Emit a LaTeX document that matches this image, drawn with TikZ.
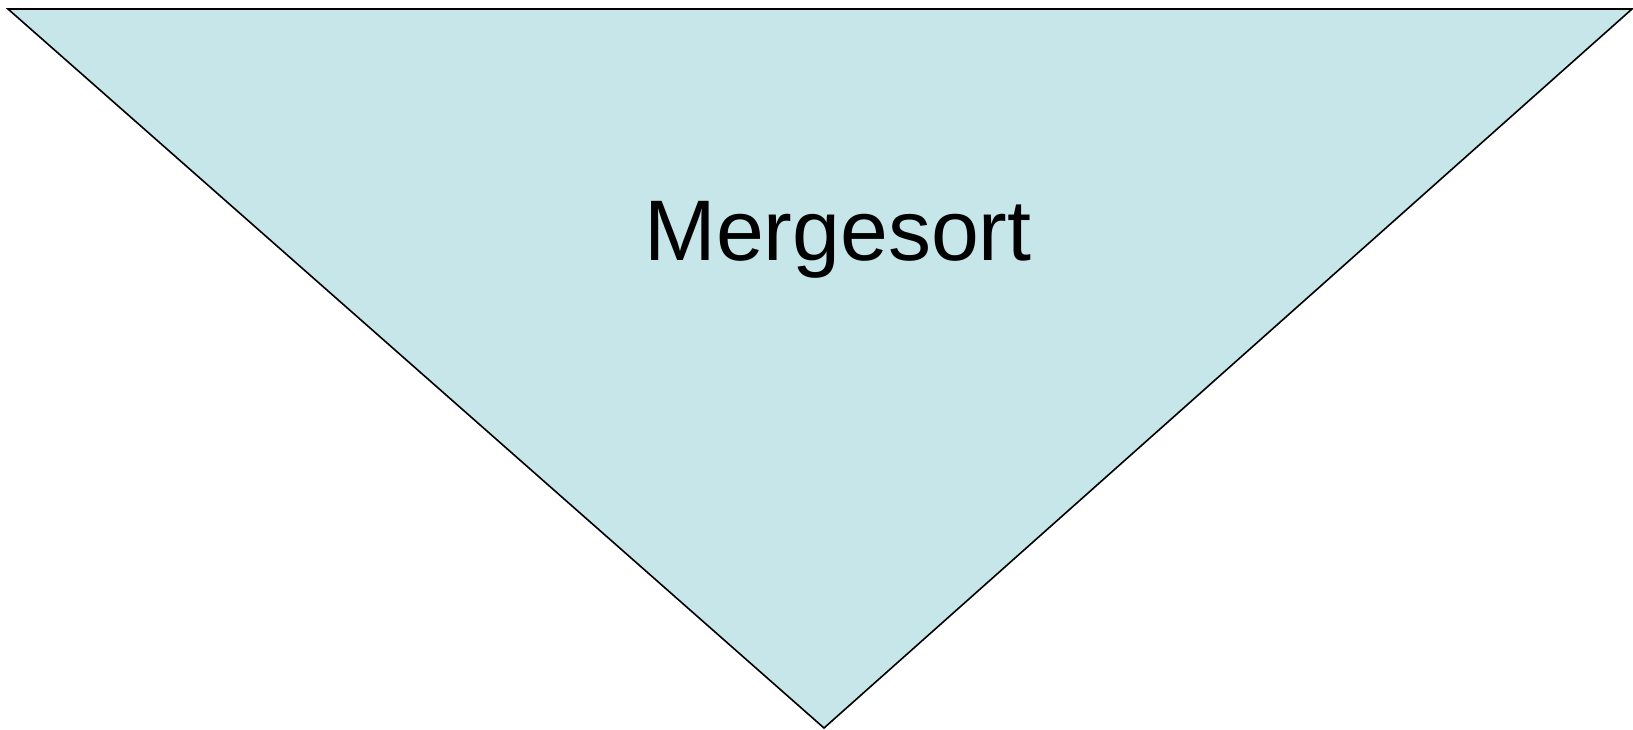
\documentclass[tikz,border=0pt]{standalone}
\usepackage{fontspec}
\setmainfont{Liberation Sans}
\definecolor{sortblue}{HTML}{C6E6EA}

\begin{document}
\begin{tikzpicture}[
                x=0.5pt, y=-0.5pt,
                funnel/.style={draw=black, fill=sortblue, line width=0.8pt, line join=miter},
                title/.style={text=black, font=\fontsize{43}{50}\selectfont, anchor=base}
            ]
            \useasboundingbox (0,0) rectangle (1633,729);

            % corners of the triangle
            \coordinate (TL) at (8,9);
            \coordinate (TR) at (1632,9);
            \coordinate (B) at (824,728);
            \draw[funnel] (TL) -- (TR) -- (B) -- cycle;

            \node[title] (sort) at (838,260) {Mergesort};
            \end{tikzpicture}
\end{document}
